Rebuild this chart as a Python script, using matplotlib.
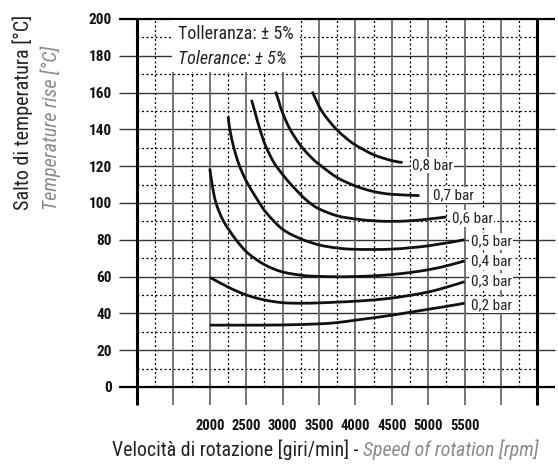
import numpy as np
import matplotlib
matplotlib.use('Agg')
import matplotlib.pyplot as plt
from matplotlib import font_manager as fm
from matplotlib.patches import Rectangle, PathPatch
from matplotlib.path import Path

# ---- data ----
rpm_ticks = [2000, 2500, 3000, 3500, 4000, 4500, 5000, 5500]
temp_ticks = [0, 20, 40, 60, 80, 100, 120, 140, 160, 180, 200]

bar_labels = ['0,2 bar', '0,3 bar', '0,4 bar', '0,5 bar', '0,6 bar', '0,7 bar', '0,8 bar']

rpm_02 = [2000, 2500, 3000, 3500, 3750, 4000, 4250, 4500, 4750, 5000, 5250, 5500]
temp_02 = [33.6, 33.6, 33.7, 34.3, 35.0, 36.3, 37.6, 39.0, 40.6, 42.2, 43.8, 45.5]

rpm_03 = [2000, 2250, 2500, 2750, 3000, 3250, 3500, 3750, 4000, 4250, 4500, 4750, 5000, 5250, 5500]
temp_03 = [59.6, 54.3, 50.0, 47.3, 45.8, 45.5, 45.7, 46.1, 46.6, 47.3, 48.3, 49.8, 51.6, 54.2, 57.2]

rpm_04 = [2000, 2032, 2085, 2190, 2360, 2530, 2760, 3000, 3300, 3500, 3750, 4000, 4250, 4500, 4750, 5000, 5250, 5500]
temp_04 = [118.7, 110, 100, 90, 80, 72.5, 66.3, 62.5, 60.5, 60.1, 59.9, 60.0, 60.4, 61.1, 62.2, 63.7, 65.8, 68.5]

rpm_05 = [2252, 2275, 2330, 2400, 2500, 2650, 2780, 3000, 3250, 3500, 3750, 4000, 4500, 5000, 5500]
temp_05 = [147, 140, 130, 121, 112, 102, 94.5, 85.7, 80.5, 77.2, 75.5, 74.8, 74.9, 76.7, 80]

rpm_06 = [2573, 2630, 2688, 2766, 2880, 3000, 3128, 3320, 3490, 3750, 4000, 4250, 4500, 4750, 5000, 5250]
temp_06 = [156, 148, 140, 131, 122, 115.5, 109.5, 101.8, 97, 93, 91.3, 90.3, 90.0, 90.3, 91.2, 92.4]

rpm_07 = [2904, 2950, 2990, 3096, 3250, 3400, 3500, 3750, 4000, 4250, 4500, 4880]
temp_07 = [160.5, 155, 150, 140.5, 131, 124.5, 121, 113.8, 109.2, 106.2, 104.7, 104]

rpm_08 = [3408, 3470, 3537, 3640, 3752, 3870, 4000, 4250, 4500, 4647]
temp_08 = [160.5, 155, 150, 144.5, 139.5, 135.3, 131.5, 126.2, 123, 122]

curves = [(rpm_02, temp_02), (rpm_03, temp_03), (rpm_04, temp_04), (rpm_05, temp_05),
          (rpm_06, temp_06), (rpm_07, temp_07), (rpm_08, temp_08)]
label_x = [5584, 5584, 5584, 5584, 5327, 5062, 4777]
label_y = [44.6, 57.2, 68.1, 79.0, 91.7, 104.3, 120.6]

# ---- fonts ----
names = {f.name for f in fm.fontManager.ttflist}
narrow = None
for n in ['Roboto Condensed', 'Liberation Sans Narrow', 'Open Sans Condensed']:
    if n in names:
        narrow = n
        break


def fp(**kw):
    if narrow is None:
        return fm.FontProperties(family='DejaVu Sans', stretch='condensed', **kw)
    return fm.FontProperties(family=narrow, **kw)


def smooth_path(xs, ys):
    # Catmull-Rom through the read points, drawn as cubic Bezier segments
    p = np.column_stack([xs, ys]).astype(float)
    q = np.vstack([p[0], p, p[-1]])
    verts = [p[0]]
    codes = [Path.MOVETO]
    for i in range(1, len(q) - 2):
        c1 = q[i] + (q[i + 1] - q[i - 1]) / 6
        c2 = q[i + 1] - (q[i + 2] - q[i]) / 6
        verts += [c1, c2, q[i + 1]]
        codes += [Path.CURVE4] * 3
    return Path(verts, codes)


# ---- figure ----
W, H = 558, 465
fig = plt.figure(figsize=(W / 100, H / 100), dpi=100)
ax = fig.add_axes([119 / W, (H - 405) / H, 436 / W, 387 / H])
x0, x1 = 1000, 6500
ax.set_xlim(752.7, 6741.8)
ax.set_ylim(-9.8, 200.5)
for s in ax.spines.values():
    s.set_visible(False)

dash = dict(color='black', lw=0.9, linestyle=(0, (1.6, 2.0)), clip_on=False, zorder=1)
# dotted minor grid
ax.hlines(np.arange(10, 200, 20), x0, x1, **dash)
ax.vlines(np.arange(1250, 6500, 500), 0, 200, **dash)
# solid grid
ax.hlines(temp_ticks[1:-1], 752.7, 6741.8, color='#333333', lw=1.0, clip_on=False, zorder=2)
ax.vlines(np.arange(1500, 6500, 500), -9.8, 200, color='#6a6a6a', lw=1.3, clip_on=False, zorder=2)
ax.hlines([0, 200], 752.7, 6741.8, color='black', lw=1.6, clip_on=False, zorder=3)
ax.vlines([x0, x1], -9.8, 200, color='black', lw=2.2, clip_on=False, zorder=3)

# tolerance box
ax.add_patch(Rectangle((1480, 171), 1760, 28.5, fc='white', ec='none', zorder=4))
ax.text(1563, 191.8, 'Tolleranza: ± 5%', fontproperties=fp(size=13), color='#222222',
        va='center', ha='left', zorder=5)
ax.text(1563, 178.2, 'Tolerance: ± 5%', fontproperties=fp(size=13, style='italic'),
        color='#222222', va='center', ha='left', zorder=5)

# curves
for (xs, ys), lab, lx, ly in zip(curves, bar_labels, label_x, label_y):
    ax.add_patch(PathPatch(smooth_path(xs, ys), fc='none', ec='#111111', lw=2.0,
                           capstyle='butt', joinstyle='round', zorder=6))
    ax.text(lx, ly, lab, fontproperties=fp(size=11), color='#222222', va='center',
            ha='left', zorder=7,
            bbox=dict(fc='white', ec='none', pad=1.0))

# ticks
ax.set_xticks(rpm_ticks)
ax.set_xticklabels([str(v) for v in rpm_ticks], fontproperties=fp(size=10.5, weight='bold'))
ax.set_yticks(temp_ticks)
ax.set_yticklabels([str(v) for v in temp_ticks], fontproperties=fp(size=11, weight='bold'))
ax.tick_params(axis='x', length=0, pad=10, colors='#111111')
ax.tick_params(axis='y', length=0, pad=5, colors='#111111')

# axis titles
fig.text(23 / W, (H - 210) / H, 'Salto di temperatura [°C]', rotation=90,
         ha='center', va='bottom', fontproperties=fp(size=14.5), color='#222222')
fig.text(51 / W, (H - 210) / H, 'Temperature rise [°C]', rotation=90,
         ha='center', va='bottom', fontproperties=fp(size=14.5, style='italic'), color='#8a8a8a')
t1 = fig.text(112 / W, (H - 450) / H, 'Velocità di rotazione [giri/min] - ',
              ha='left', va='center', fontproperties=fp(size=14.3), color='#222222')
ax.annotate('Speed of rotation [rpm]', xy=(1, 0), xycoords=t1, ha='left', va='bottom',
            fontproperties=fp(size=14.3, style='italic'), color='#8a8a8a',
            annotation_clip=False)

fig.savefig('out.png', dpi=100)
